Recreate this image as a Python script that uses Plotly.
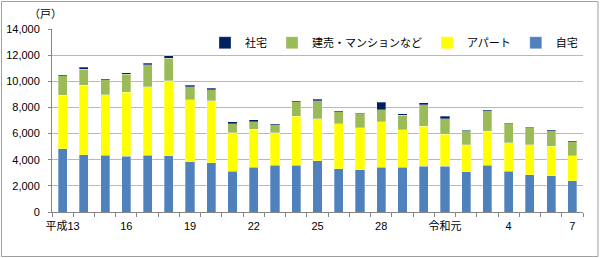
import plotly.graph_objects as go

years = ["H13", "H14", "H15", "H16", "H17", "H18", "H19", "H20", "H21", "H22",
         "H23", "H24", "H25", "H26", "H27", "H28", "H29", "H30", "R1", "R2",
         "R3", "R4", "R5", "R6", "R7"]
tick_labels = ["平成13", "", "", "16", "", "", "19", "", "", "22",
               "", "", "25", "", "", "28", "", "", "令和元", "",
               "", "4", "", "", "7"]

jitaku = [4850, 4390, 4340, 4270, 4340, 4290, 3860, 3750, 3120, 3420,
          3580, 3580, 3930, 3300, 3220, 3420, 3420, 3500, 3500, 3070,
          3580, 3120, 2840, 2780, 2400]
apato = [4090, 5290, 4620, 4900, 5240, 5770, 4720, 4750, 2940, 2910,
         2470, 3750, 3190, 3470, 3220, 3500, 2860, 3060, 2430, 2070,
         2600, 2170, 2300, 2250, 1920]
tateuri = [1480, 1250, 1150, 1380, 1690, 1710, 1020, 870, 690, 590,
           610, 1120, 1380, 890, 1070, 890, 1120, 1630, 1200, 1070,
           1580, 1460, 1300, 1180, 1070]
shataku = [70, 150, 100, 100, 100, 180, 100, 100, 150, 130,
           100, 80, 130, 80, 60, 590, 100, 180, 180, 50,
           80, 50, 50, 80, 50]

FONT = "Arial, 'Liberation Sans', 'Noto Sans CJK JP', sans-serif"

series = [
    ("自宅", jitaku, "#4F81BD", 4),
    ("アパート", apato, "#FFFF00", 3),
    ("建売・マンションなど", tateuri, "#9BBB59", 2),
    ("社宅", shataku, "#002060", 1),
]

fig = go.Figure()
for name, vals, color, rank in series:
    fig.add_trace(go.Bar(
        x=years, y=vals, name=name, legendrank=rank,
        marker=dict(color=color, line=dict(color="rgba(255,255,255,0.6)", width=0.5)),
    ))

fig.update_layout(
    barmode="stack",
    bargap=0.57,
    width=600, height=258,
    margin=dict(l=52, r=17, t=29, b=46, autoexpand=False),
    paper_bgcolor="white",
    plot_bgcolor="white",
    font=dict(family=FONT, size=11, color="#000000"),
    showlegend=True,
    legend=dict(orientation="h", traceorder="normal",
                x=1.0, xanchor="right", y=0.925, yanchor="middle",
                font=dict(size=11), bgcolor="rgba(0,0,0,0)",
                itemwidth=30, tracegroupgap=0),
    xaxis=dict(
        type="category", automargin=False,
        tickmode="array", tickvals=years, ticktext=tick_labels,
        tickson="boundaries", ticks="outside", ticklen=4, tickcolor="#868686",
        tickangle=0, ticklabelstandoff=4,
        showline=True, linecolor="#868686", linewidth=1,
        showgrid=False, tickfont=dict(size=11),
    ),
    yaxis=dict(
        automargin=False,
        range=[0, 14000], tickvals=[0, 2000, 4000, 6000, 8000, 10000, 12000, 14000],
        ticktext=["0", "2,000", "4,000", "6,000", "8,000", "10,000", "12,000", "14,000"],
        ticks="outside", ticklen=3, tickcolor="#868686", ticklabelstandoff=6,
        showline=True, linecolor="#868686", linewidth=1,
        showgrid=True, gridcolor="#B8B8B8", gridwidth=1,
        tickfont=dict(size=11), zeroline=False,
    ),
    annotations=[dict(text="（戸）", xref="paper", yref="paper", x=-0.012, y=1.08,
                      showarrow=False, xanchor="center", yanchor="middle",
                      font=dict(size=11))],
    shapes=[dict(type="rect", xref="paper", yref="paper",
                 x0=(1.5 - 52) / 531, x1=(598 - 52) / 531,
                 y0=(212 - 256.5) / 183, y1=(212 - 1.5) / 183,
                 line=dict(color="#A0A0A0", width=1), fillcolor="rgba(0,0,0,0)",
                 layer="below")],
)

fig.write_html("out.html")
